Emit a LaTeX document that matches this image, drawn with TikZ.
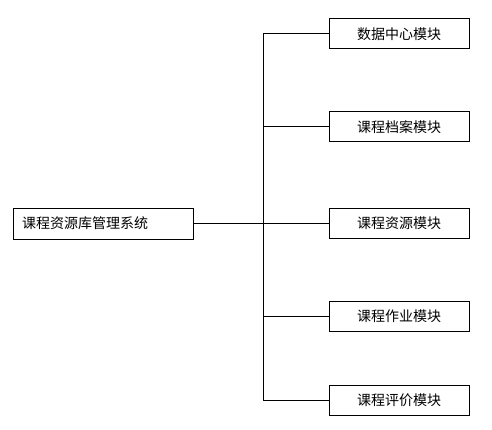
\documentclass[tikz,border=0pt]{standalone}
\usepackage{fontspec}
\newfontfamily\cjk{Noto Sans CJK SC}
\usetikzlibrary{positioning}

\begin{document}
\begin{tikzpicture}[x=1pt,y=1pt]
 		\tikzstyle{main}=[rectangle, draw=black, line width=0.9pt, minimum height=30pt, inner sep=0pt, font=\cjk\fontsize{14}{16}\selectfont]
 		\tikzstyle{module}=[main, minimum width=140pt]
 		\tikzstyle{connect}=[line width=0.9pt]
 		\useasboundingbox (0,0) rectangle (492,429);
 		\node[main, minimum width=180pt, minimum height=31pt, text width=162pt, align=left] (sys) at (103,205.5) {课程资源库管理系统};
 		\node[module] (data) at (399,395.2) {数据中心模块};
 			\node[module] (archive) [below=62pt of data] {课程档案模块};
 				\node[module] (res) [below=66pt of archive] {课程资源模块};
 					\node[module] (work) [below=62pt of res] {课程作业模块};
 						\node[module] (eval) [below=53pt of work] {课程评价模块};
 		\coordinate (trunk) at (263.3,205.5);

  		\path (sys.east) edge [connect] (trunk)
  			(trunk |- data.west) edge [connect] (trunk |- eval.west)
  				(trunk |- data.west) edge [connect] (data.west)
  				(trunk |- archive.west) edge [connect] (archive.west)
  				(trunk |- res.west) edge [connect] (res.west)
  				(trunk |- work.west) edge [connect] (work.west)
  				(trunk |- eval.west) edge [connect] (eval.west);
\end{tikzpicture}
\end{document}
